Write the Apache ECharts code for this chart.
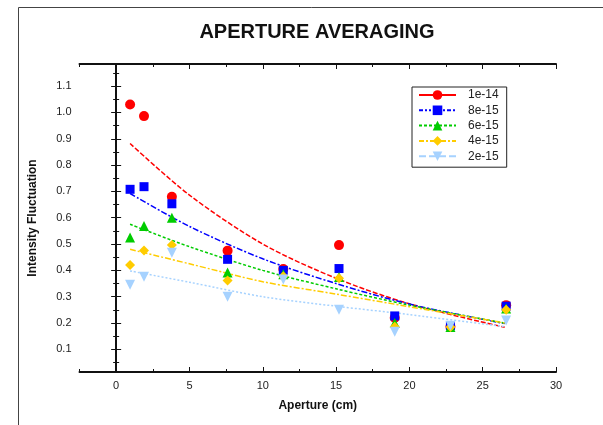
<!DOCTYPE html>
<html>
<head>
<meta charset="utf-8">
<script src="https://cdn.jsdelivr.net/npm/echarts@6/dist/echarts.min.js"></script>
<style>
  html, body { margin: 0; padding: 0; background: #fff; }
  #chart { width: 603px; height: 425px; }
</style>
</head>
<body>
<div id="chart"></div>
<script>
// measured points (aperture in cm)
var apertures = [0.95, 1.9, 3.8, 7.6, 11.4, 15.2, 19.0, 22.8, 26.6];
var pts1e14 = [1.03, 0.986, 0.68, 0.475, 0.405, 0.496, 0.22, 0.186, 0.268];
var pts8e15 = [0.708, 0.718, 0.653, 0.442, 0.40, 0.407, 0.227, 0.19, 0.264];
var pts6e15 = [0.525, 0.569, 0.60, 0.392, 0.385, 0.375, 0.20, 0.185, 0.255];
var pts4e15 = [0.42, 0.476, 0.496, 0.362, 0.378, 0.37, 0.186, 0.185, 0.25];
var pts2e15 = [0.345, 0.376, 0.467, 0.30, 0.365, 0.25, 0.167, 0.19, 0.21];

// fitted curves
var fitX = [0.95, 5, 10, 15, 20, 26.5];
var fit1e14 = [0.882, 0.686, 0.50, 0.37, 0.273, 0.184];
var fit8e15 = [0.692, 0.567, 0.444, 0.35, 0.272, 0.198];
var fit6e15 = [0.575, 0.49, 0.40, 0.33, 0.268, 0.2];
var fit4e15 = [0.48, 0.425, 0.357, 0.31, 0.262, 0.2];
var fit2e15 = [0.398, 0.355, 0.30, 0.264, 0.232, 0.186];

var names = ['1e-14', '8e-15', '6e-15', '4e-15', '2e-15'];
var xMajor = [0, 5, 10, 15, 20, 25, 30];
var xMinor = [-2.5, 2.5, 7.5, 12.5, 17.5, 22.5, 27.5];
var yMajor = [0.1, 0.2, 0.3, 0.4, 0.5, 0.6, 0.7, 0.8, 0.9, 1.0, 1.1];
var yMinor = [0.05, 0.15, 0.25, 0.35, 0.45, 0.55, 0.65, 0.75, 0.85, 0.95, 1.05, 1.15];

var pointSets = [pts1e14, pts8e15, pts6e15, pts4e15, pts2e15];
var fitSets = [fit1e14, fit8e15, fit6e15, fit4e15, fit2e15];
var colors = ['#ff0000', '#0000ff', '#00cc00', '#ffcc00', '#a6d2ff'];
var symbols = ['circle', 'rect', 'triangle', 'diamond', 'path://M0,0L10,0L5,9Z'];
var sizes = [10, 9, 10, 10, 10];
var dashes = [[5, 2], [6, 2, 2, 2], [3, 2], [6, 2, 2, 2], [2, 2]];
var legendDashes = ['solid', [4, 2, 2, 2, 2, 2], [3, 2], [5, 2, 2, 2], [7, 3]];

var font = 'Arial, "Liberation Sans", sans-serif';
var X_MIN = -2.5, X_MAX = 30, Y_MIN = 0.014, Y_MAX = 1.184;

function zip(xs, ys) {
    return ys.map(function (y, i) { return [xs[i], y]; });
}

function xAxisDef(pos, ticks, len, main) {
    return {
        type: 'value', position: pos, min: X_MIN, max: X_MAX,
        splitLine: { show: false },
        axisLine: { show: main, lineStyle: { color: '#111', width: 2 } },
        axisTick: { show: true, inside: true, length: len, customValues: ticks,
                    lineStyle: { color: '#111', width: 1 } },
        axisLabel: { show: main && pos === 'bottom', customValues: xMajor, margin: 8,
                     color: '#222', fontSize: 11, fontFamily: font }
    };
}

function yAxisDef(pos, ticks, len, main) {
    return {
        type: 'value', position: pos, min: Y_MIN, max: Y_MAX,
        splitLine: { show: false },
        axisLine: { show: main, lineStyle: { color: '#111', width: 2 } },
        axisTick: { show: true, inside: true, length: len, customValues: ticks,
                    lineStyle: { color: '#111', width: 1 } },
        axisLabel: { show: main && pos === 'left', customValues: yMajor, margin: 8,
                     color: '#222', fontSize: 11, fontFamily: font,
                     formatter: function (v) { return v.toFixed(1); } }
    };
}

var xAxes = [
    xAxisDef('bottom', xMajor, 5, true),
    xAxisDef('bottom', xMinor, 3, false),
    xAxisDef('top', xMajor, 5, true),
    xAxisDef('top', xMinor, 3, false)
];
xAxes[0].name = 'Aperture (cm)';
xAxes[0].nameLocation = 'middle';
xAxes[0].nameGap = 28;
xAxes[0].nameTextStyle = { fontWeight: 'bold', fontSize: 12, color: '#111', fontFamily: font };

var yAxes = [
    yAxisDef('left', yMajor, 5, true),
    yAxisDef('left', yMinor, 3, false),
    yAxisDef('right', yMajor, 5, true),
    yAxisDef('right', yMinor, 3, false)
];
yAxes[0].name = 'Intensity Fluctuation';
yAxes[0].nameLocation = 'middle';
yAxes[0].nameGap = 41;
yAxes[0].nameTextStyle = { fontWeight: 'bold', fontSize: 12, color: '#111', fontFamily: font };

var series = [];
names.forEach(function (name, i) {
    series.push({
        name: name, type: 'line', data: zip(fitX, fitSets[i]),
        smooth: 0.3, showSymbol: false, symbol: symbols[i], z: 2,
        itemStyle: { color: colors[i] },
        lineStyle: { color: colors[i], width: 1.5, type: dashes[i] }
    });
});
names.forEach(function (name, i) {
    series.push({
        name: name, type: 'scatter', data: zip(apertures, pointSets[i]),
        symbol: symbols[i], symbolSize: sizes[i], z: 3 + i,
        itemStyle: { color: colors[i], opacity: 1 }
    });
});

var myChart = echarts.init(document.getElementById('chart'));
var option = {
    animation: false,
    backgroundColor: '#fff',
    graphic: [{
        type: 'rect', silent: true, z: -10,
        shape: { x: 18.5, y: 7.5, width: 700, height: 600 },
        style: { fill: null, stroke: '#444', lineWidth: 1 }
    }, {
        type: 'text', silent: true, x: 317, y: 32,
        style: {
            text: 'APERTURE AVERAGING', align: 'center', verticalAlign: 'middle',
            font: 'bold 20px ' + font, fill: '#111'
        }
    }],
    legend: {
        orient: 'vertical', left: 412, top: 87,
        padding: [2, 8, 5, 6], itemGap: 3.3, itemWidth: 37, itemHeight: 12,
        borderColor: '#222', borderWidth: 1, backgroundColor: '#fff',
        textStyle: { fontSize: 12, color: '#222', fontFamily: font, padding: [0, 0, 0, 7] },
        data: names.map(function (n, i) {
            return { name: n, lineStyle: { type: legendDashes[i], width: 2 } };
        })
    },
    grid: { left: 79.5, right: 47, top: 64, bottom: 53, containLabel: false },
    xAxis: xAxes,
    yAxis: yAxes,
    series: series
};
myChart.setOption(option);
</script>
</body>
</html>
